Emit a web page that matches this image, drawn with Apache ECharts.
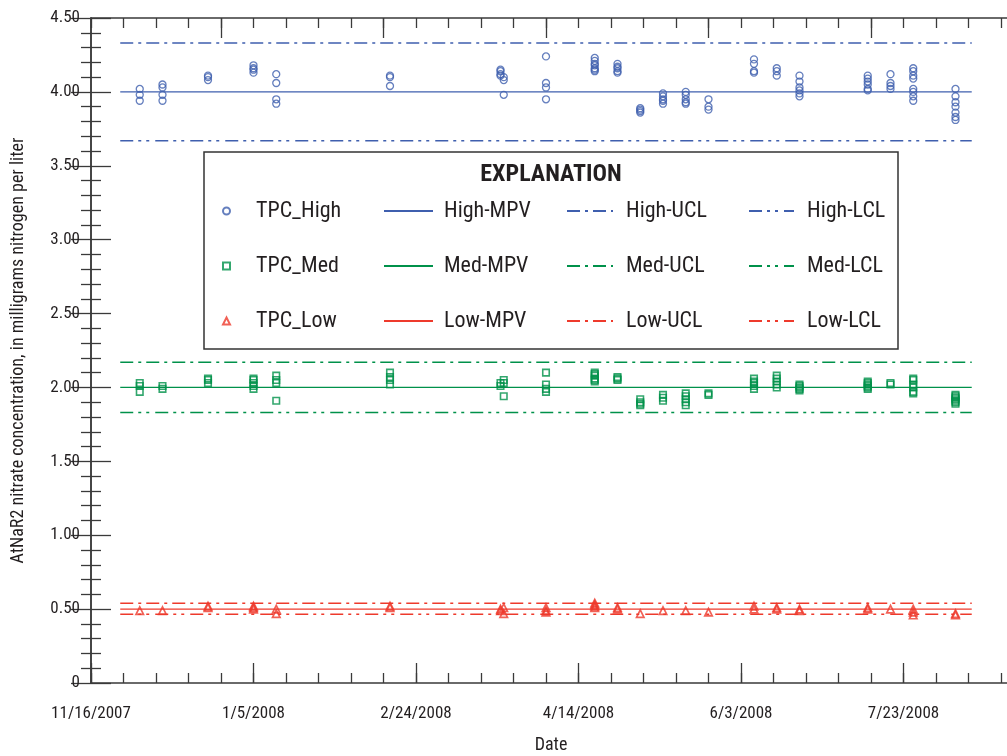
<!DOCTYPE html>
<html><head><meta charset="utf-8">
<script src="https://cdn.jsdelivr.net/npm/echarts@6/dist/echarts.min.js"></script>
<style>html,body{margin:0;padding:0;background:#fff}#c{width:1007px;height:756px}</style>
</head><body><div id="c"></div>
<script>
// ---- data ----
const sampleDates = ['2007-12-01','2007-12-08','2007-12-22','2008-01-05','2008-01-12','2008-02-16','2008-03-21','2008-03-22','2008-04-04','2008-04-19','2008-04-26','2008-05-03','2008-05-10','2008-05-17','2008-05-24','2008-06-07','2008-06-14','2008-06-21','2008-07-12','2008-07-19','2008-07-26','2008-08-08'];
const highValues = [
 [4.02,3.98,3.94],[4.05,4.03,3.98,3.94],[4.11,4.10,4.08],[4.18,4.16,4.15,4.13],[4.12,4.06,3.95,3.92],
 [4.11,4.10,4.04],[4.15,4.14,4.12,4.11],[4.10,4.08,3.98],[4.24,4.06,4.03,3.95],[4.23,4.21,4.19,4.18,4.16,4.15,4.14],
 [4.19,4.17,4.16,4.14,4.13],[3.89,3.88,3.87,3.86],[3.99,3.97,3.95,3.94,3.92],[4.00,3.98,3.95,3.93,3.92],[3.95,3.90,3.88],
 [4.22,4.19,4.14,4.13],[4.16,4.14,4.11],[4.11,4.07,4.03,4.01,3.99,3.97],[4.11,4.09,4.07,4.05,4.02,4.01],[4.12,4.06,4.04,4.02],
 [4.16,4.14,4.11,4.09,4.02,4.00,3.97,3.94],[4.02,3.97,3.93,3.90,3.86,3.83,3.81]
];
const medValues = [
 [2.03,2.01,1.97],[2.01,1.99],[2.06,2.05,2.03],[2.06,2.05,2.03,2.01,1.99],[2.08,2.05,2.03,1.91],
 [2.10,2.07,2.05,2.02],[2.03,2.01],[2.05,2.03,1.94],[2.10,2.02,1.99,1.97],[2.10,2.09,2.08,2.06,2.05,2.04],
 [2.07,2.06,2.05],[1.92,1.90,1.89,1.88],[1.95,1.93,1.91],[1.96,1.94,1.92,1.90,1.88],[1.96,1.95],
 [2.06,2.04,2.03,2.01,1.99],[2.08,2.06,2.04,2.02,2.00],[2.02,2.01,2.00,1.99,1.98],[2.04,2.03,2.02,2.01,2.00,1.99],[2.03,2.02],
 [2.06,2.05,2.02,2.00,1.97,1.96],[1.95,1.94,1.93,1.92,1.91,1.90,1.89]
];
const lowValues = [
 [0.49],[0.49],[0.52,0.51],[0.52,0.51,0.50],[0.50,0.47],
 [0.52,0.51],[0.50,0.49],[0.51,0.47],[0.51,0.49,0.48],[0.54,0.53,0.52,0.51],
 [0.51,0.50],[0.47],[0.49],[0.49],[0.48],
 [0.52,0.50],[0.51,0.50],[0.50,0.49],[0.51,0.50],[0.50],
 [0.50,0.48,0.46],[0.47,0.46]
];
// control limits: [MPV, UCL, LCL]
const highLimits = [4.00, 4.33, 3.67];
const medLimits = [2.00, 2.17, 1.83];
const lowLimits = [0.50, 0.54, 0.465];
const limitLineDates = ['2007-11-25','2008-08-13'];
const axisStartDate = '2007-11-16';
const axisEndDay = 283.08;
const bottomMajorDays = [0,50,100,150,200,250];
const topMajorDays = [40,90,140,190,240];

// ---- helpers ----
function toUTC(s){const p=s.split('-').map(Number);return Date.UTC(p[0],p[1]-1,p[2]);}
const startMs = toUTC(axisStartDate);
function dayOf(s){return (toUTC(s)-startMs)/86400000;}
function fmtDay(d){const dt=new Date(startMs+Math.round(d)*86400000);return (dt.getUTCMonth()+1)+'/'+dt.getUTCDate()+'/'+dt.getUTCFullYear();}
function pts(vals){const out=[];vals.forEach((arr,i)=>arr.forEach(v=>out.push([dayOf(sampleDates[i]),v])));return out;}
function lim(v){return limitLineDates.map(s=>[dayOf(s),v]);}

const BLUE='#3f5fae', GREEN='#00914a', RED='#ee3a2c';
const FONT="'Liberation Sans Narrow','Roboto Condensed','Arial Narrow',sans-serif";
const TXT='#231f20', AX='#3a3a3a';
const DASHDOT=[13,5,3,5];
const DASHDOTDOT=[13,5,3,5,3,6];

function limSeries(name,v,c,dash,w){return {name,type:'line',data:lim(v),symbol:'none',silent:true,lineStyle:{color:c,width:w,type:dash},itemStyle:{color:c},z:2};}

const series=[
 {name:'TPC_High',type:'scatter',data:pts(highValues),symbol:'circle',symbolSize:7,itemStyle:{color:'rgba(0,0,0,0)',borderColor:BLUE,borderWidth:1.3},z:5},
 {name:'TPC_Med',type:'scatter',data:pts(medValues),symbol:'rect',symbolSize:6.5,itemStyle:{color:'rgba(0,0,0,0)',borderColor:GREEN,borderWidth:1.6},z:5},
 {name:'TPC_Low',type:'scatter',data:pts(lowValues),symbol:'triangle',symbolSize:7.5,itemStyle:{color:'rgba(0,0,0,0)',borderColor:RED,borderWidth:1.7},z:5},
 limSeries('High-MPV',highLimits[0],BLUE,'solid',1.3),
 limSeries('High-UCL',highLimits[1],BLUE,DASHDOT,1.5),
 limSeries('High-LCL',highLimits[2],BLUE,DASHDOTDOT,1.5),
 limSeries('Med-MPV',medLimits[0],GREEN,'solid',1.3),
 limSeries('Med-UCL',medLimits[1],GREEN,DASHDOT,1.5),
 limSeries('Med-LCL',medLimits[2],GREEN,DASHDOTDOT,1.5),
 limSeries('Low-MPV',lowLimits[0],RED,'solid',1.3),
 limSeries('Low-UCL',lowLimits[1],RED,DASHDOT,1.5),
 limSeries('Low-LCL',lowLimits[2],RED,DASHDOTDOT,1.5)
];

// legend layout: 3 rows x 4 cols
const legendRows=[['TPC_High','High-MPV','High-UCL','High-LCL'],['TPC_Med','Med-MPV','Med-UCL','Med-LCL'],['TPC_Low','Low-MPV','Low-UCL','Low-LCL']];
const rowY=[211,266,321];
const cols=[{left:222,w:7,h:7,pad:21},{left:383,w:49,h:24,pad:6},{left:566,w:46,h:24,pad:8},{left:748,w:45,h:24,pad:8}];
const legends=[];
legendRows.forEach((row,ri)=>row.forEach((name,ci)=>{
  const c=cols[ci];
  const lg={data:[name],left:c.left,top:rowY[ri]-12,padding:0,itemWidth:c.w,itemHeight:c.h,selectedMode:false,
    textStyle:{fontFamily:FONT,fontSize:22,color:TXT,padding:[0,0,0,c.pad],height:24,lineHeight:24}};
  if(ci>0){lg.itemStyle={opacity:0};}
  legends.push(lg);
}));

const chart=echarts.init(document.getElementById('c'),null,{renderer:'canvas'});
const xBase={type:'value',min:0,max:axisEndDay,gridIndex:0,splitLine:{show:false},axisLine:{show:true,lineStyle:{color:AX,width:1.5}}};
chart.setOption({
  backgroundColor:'#fff',
  animation:false,
  textStyle:{fontFamily:FONT},
  grid:{left:91,top:18,width:920,height:665,containLabel:false,outerBoundsMode:'none'},
  xAxis:[
    Object.assign({},xBase,{position:'bottom',interval:10,axisTick:{show:true,inside:true,length:10,lineStyle:{color:AX,width:1.3}},axisLabel:{show:false}}),
    Object.assign({},xBase,{position:'bottom',axisLine:{show:false},
      axisTick:{show:true,inside:true,length:20,customValues:bottomMajorDays,lineStyle:{color:AX,width:1.3}},
      axisLabel:{show:true,customValues:bottomMajorDays,formatter:v=>fmtDay(v),fontSize:17,color:TXT,margin:22,fontFamily:FONT},
      name:'Date',nameLocation:'middle',nameGap:53,nameTextStyle:{fontSize:18,color:TXT,fontFamily:FONT}}),
    Object.assign({},xBase,{position:'top',interval:10,axisTick:{show:true,inside:true,length:10,lineStyle:{color:AX,width:1.3}},axisLabel:{show:false}}),
    Object.assign({},xBase,{position:'top',axisLine:{show:false},axisTick:{show:true,inside:true,length:20,customValues:topMajorDays,lineStyle:{color:AX,width:1.3}},axisLabel:{show:false}})
  ],
  yAxis:[
    {type:'value',min:0,max:4.5,interval:0.5,position:'left',splitLine:{show:false},
     axisLine:{show:true,lineStyle:{color:AX,width:1.5}},
     axisTick:{show:true,inside:true,length:20,lineStyle:{color:AX,width:1.3}},
     minorTick:{show:true,splitNumber:5,length:10,lineStyle:{color:AX,width:1.3}},
     axisLabel:{formatter:v=>v===0?'0':v.toFixed(2),fontSize:17,color:TXT,margin:11,fontFamily:FONT},
     name:'AtNaR2 nitrate concentration, in milligrams nitrogen per liter',nameLocation:'middle',nameGap:64,nameRotate:90,
     nameTextStyle:{fontSize:18,color:TXT,fontFamily:FONT}},
    {type:'value',min:0,max:4.5,interval:0.5,position:'right',splitLine:{show:false},
     axisLine:{show:true,lineStyle:{color:AX,width:1.5}},
     axisTick:{show:true,inside:true,length:20,lineStyle:{color:AX,width:1.3}},
     minorTick:{show:true,splitNumber:5,length:10,lineStyle:{color:AX,width:1.3}},
     axisLabel:{show:false}}
  ],
  legend:legends,
  graphic:[
    {type:'rect',shape:{x:204,y:152,width:694,height:197},style:{fill:'#fff',stroke:'#333',lineWidth:1.5},z:1,silent:true},
    {type:'text',x:551,y:175,style:{text:'EXPLANATION',font:"bold 24px "+FONT,fill:TXT,textAlign:'center',textVerticalAlign:'middle'},z:2,silent:true}
  ],
  series:series.map(s=>Object.assign({xAxisIndex:0,yAxisIndex:0},s))
});
</script></body></html>
